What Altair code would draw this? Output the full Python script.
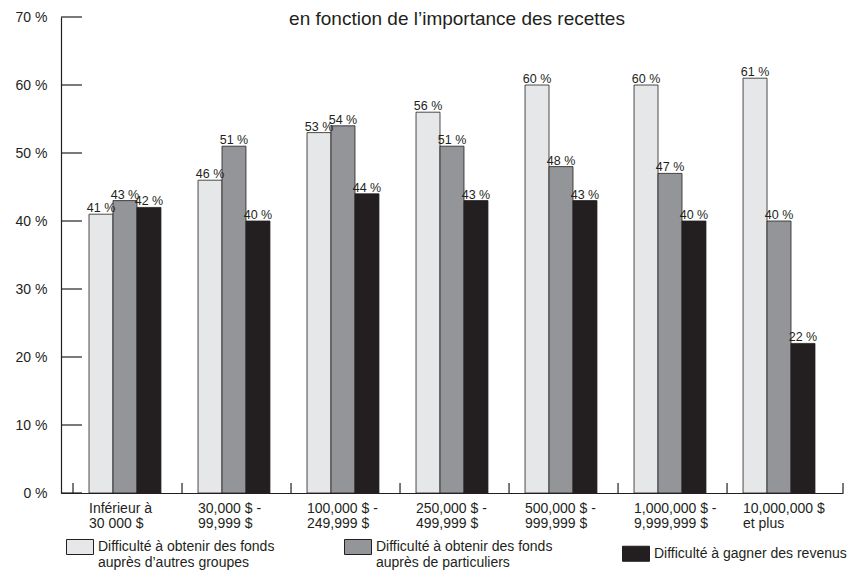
import altair as alt
import pandas as pd

categories = [
    "Inférieur à\n30 000 $",
    "30,000 $ -\n99,999 $",
    "100,000 $ -\n249,999 $",
    "250,000 $ -\n499,999 $",
    "500,000 $ -\n999,999 $",
    "1,000,000 $ -\n9,999,999 $",
    "10,000,000 $\net plus",
]
series = [
    "Difficulté à obtenir des fonds\nauprès d’autres groupes",
    "Difficulté à obtenir des fonds\nauprès de particuliers",
    "Difficulté à gagner des revenus",
]
autres_groupes = [41, 46, 53, 56, 60, 60, 61]
particuliers = [43, 51, 54, 51, 48, 47, 40]
revenus = [42, 40, 44, 43, 43, 40, 22]
colors = ["#e6e7e8", "#939598", "#231f20"]
y_ticks = [0, 10, 20, 30, 40, 50, 60, 70]
title_text = "en fonction de l’importance des recettes"

rows = []
for i, c in enumerate(categories):
    for s, vals in zip(series, [autres_groupes, particuliers, revenus]):
        rows.append({"cat": c, "series": s, "value": vals[i], "label": f"{vals[i]} %"})
df = pd.DataFrame(rows)

W, H = 782, 476
INK = "#231f20"
FONT = "Liberation Sans"

xscale = alt.Scale(domain=categories, paddingInner=0.34, paddingOuter=0.257)
yscale = alt.Scale(domain=[0, 70], nice=False)

x_axis = alt.Axis(
    title=None,
    labelExpr="split(datum.label, '\\n')",
    labelAlign="left",
    labelOffset=-36,
    labelAngle=0,
    labelBaseline="top",
    labelPadding=8,
    labelLineHeight=15,
    labelFontSize=14,
    labelColor=INK,
    labelFont=FONT,
    labelLimit=300,
    ticks=False,
    domainColor=INK,
    domainWidth=1.2,
)
y_axis = alt.Axis(
    title=None,
    values=y_ticks,
    labelExpr="datum.value + ' %'",
    ticks=False,
    grid=False,
    labelPadding=14,
    labelFontSize=14,
    labelColor=INK,
    labelFont=FONT,
    domainColor=INK,
    domainWidth=1.2,
)

xoff = alt.XOffset("series:N", sort=series, scale=alt.Scale(domain=series, paddingInner=0, paddingOuter=0))

bars = alt.Chart(df).mark_bar(stroke=INK, strokeWidth=0.8).encode(
    x=alt.X("cat:N", scale=xscale, sort=categories, axis=x_axis),
    xOffset=xoff,
    y=alt.Y("value:Q", scale=yscale, axis=y_axis),
    color=alt.Color(
        "series:N",
        sort=series,
        scale=alt.Scale(domain=series, range=colors),
        legend=alt.Legend(
            title=None,
            orient="none",
            legendX=5,
            legendY=516,
            direction="horizontal",
            columns=3,
            columnPadding=67,
            symbolType="M-1,-0.556H1V0.556H-1Z",
            symbolSize=729,
            symbolStrokeColor=INK,
            symbolStrokeWidth=1,
            symbolOpacity=1,
            labelExpr="split(datum.label, '\\n')",
            labelFontSize=14,
            labelFont=FONT,
            labelColor=INK,
            labelLimit=400,
            labelOffset=4,
        ),
    ),
)

labels = alt.Chart(df).mark_text(
    baseline="alphabetic", dy=-2, fontSize=12.5, font=FONT, color=INK
).encode(
    x=alt.X("cat:N", scale=xscale, sort=categories, axis=x_axis),
    xOffset=xoff,
    y=alt.Y("value:Q", scale=yscale, axis=y_axis),
    text="label:N",
)

tick_df = pd.DataFrame({"v": y_ticks})
yticks = alt.Chart(tick_df).mark_rule(color=INK, strokeWidth=1.2).encode(
    y=alt.Y("v:Q", scale=yscale, axis=y_axis),
    x=alt.value(0),
    x2=alt.value(21),
)

cat_df = pd.DataFrame({"cat": categories})
xticks = alt.Chart(cat_df).mark_rule(color=INK, strokeWidth=1.2, xOffset=-16).encode(
    x=alt.X("cat:N", scale=xscale, sort=categories, bandPosition=0, axis=x_axis),
    y=alt.value(H - 10),
    y2=alt.value(H),
)
end_tick = alt.Chart(pd.DataFrame({"e": [1]})).mark_rule(color=INK, strokeWidth=1.2).encode(
    x=alt.value(W),
    y=alt.value(H - 10),
    y2=alt.value(H),
)

title = alt.Chart(pd.DataFrame({"t": [title_text]})).mark_text(
    fontSize=19, font=FONT, color=INK, align="center", baseline="alphabetic"
).encode(
    x=alt.value(W / 2 + 5),
    y=alt.value(8),
    text="t:N",
)

chart = alt.layer(bars, labels, yticks, xticks, end_tick, title).properties(
    width=W,
    height=H,
    background="white",
    autosize=alt.AutoSizeParams(type="none"),
    padding={"left": 53, "top": 9, "right": 13, "bottom": 78},
).configure_view(stroke=None)

chart.save("out.html", embed_options={"renderer": "svg", "actions": False})
